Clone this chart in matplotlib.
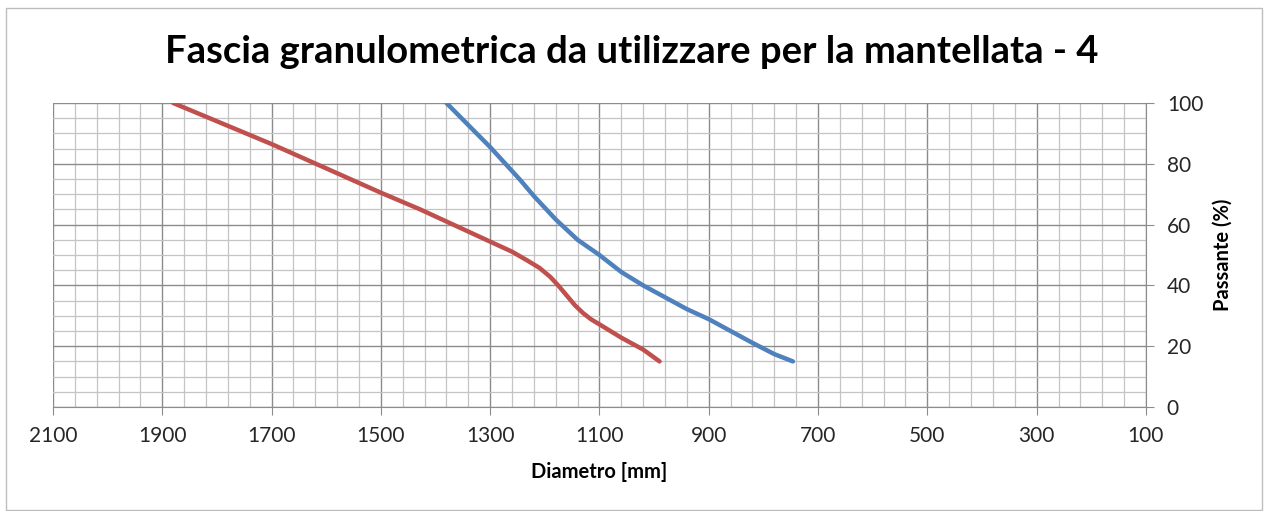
import numpy as np
import matplotlib
matplotlib.use("Agg")
import matplotlib.pyplot as plt
from matplotlib.ticker import FixedLocator
from matplotlib.patches import Rectangle

# curve values (diameter mm, passing %)
red_d = [1880, 1700, 1500, 1428, 1300, 1260, 1233, 1210, 1190, 1175, 1160, 1145, 1130, 1115, 1100, 1060, 1020, 990]
red_p = [100, 86.5, 70.5, 65, 54.4, 51.1, 48.3, 45.8, 42.8, 39.9, 36.7, 33.5, 30.9, 28.8, 27.2, 22.8, 18.9, 15]

blue_d = [1380, 1300, 1245, 1220, 1180, 1140, 1100, 1060, 1020, 980, 940, 900, 860, 820, 780, 746]
blue_p = [100, 85.5, 74.7, 69.4, 61.7, 55, 50, 44.4, 40, 36.1, 32.2, 28.9, 25, 21.1, 17.4, 15]

x_major = [2100, 1900, 1700, 1500, 1300, 1100, 900, 700, 500, 300, 100]
title = "Fascia granulometrica da utilizzare per la mantellata - 4"
xlab = "Diametro [mm]"
ylab = "Passante (%)"

plt.rcParams['font.family'] = ['Lato', 'DejaVu Sans']

fig = plt.figure(figsize=(12.64, 5.11), dpi=100)
ax = fig.add_axes([0.0419, 0.2035, 0.8647, 0.5949])

# light chart border like the spreadsheet frame
fig.patches.append(Rectangle((6/1264, 1/511), 1256/1264, 502/511, transform=fig.transFigure,
                             fill=False, edgecolor='#bdbdbd', linewidth=1.0))

ax.plot(red_d, red_p, color='#C0504D', lw=3.2, solid_capstyle='round', solid_joinstyle='round', zorder=3)
ax.plot(blue_d, blue_p, color='#4F81BD', lw=3.2, solid_capstyle='round', solid_joinstyle='round', zorder=3)

ax.set_xlim(2100, 100)
ax.set_ylim(0, 100)
ax.xaxis.set_major_locator(FixedLocator(x_major))
ax.xaxis.set_minor_locator(FixedLocator(np.arange(100, 2101, 40)))
ax.yaxis.set_major_locator(FixedLocator(np.arange(0, 101, 20)))
ax.yaxis.set_minor_locator(FixedLocator(np.arange(0, 101, 5)))

ax.grid(which='major', color='#8c8c8c', lw=1.0)
ax.grid(which='minor', color='#c4c4c4', lw=0.9)
ax.set_axisbelow(True)

ax.yaxis.tick_right()
ax.yaxis.set_label_position('right')
for s in ['top', 'left']:
    ax.spines[s].set_visible(False)
for s in ['bottom', 'right']:
    ax.spines[s].set_color('#8c8c8c')

ax.tick_params(axis='x', which='major', length=6, color='#8c8c8c', pad=8, labelsize=15, labelcolor='#262626')
ax.tick_params(axis='x', which='minor', length=0)
ax.tick_params(axis='y', which='major', length=6, color='#8c8c8c', pad=9, labelsize=15, labelcolor='#262626')
ax.tick_params(axis='y', which='minor', length=0)

ax.set_xlabel(xlab, fontsize=14.5, fontweight='bold', labelpad=11)
ax.set_ylabel(ylab, fontsize=14.5, fontweight='bold', labelpad=7)
fig.text(0.5, 1 - 52/511, title, fontsize=27.5, fontweight='bold', ha='center', va='center')

fig.savefig("out.png", dpi=100)
